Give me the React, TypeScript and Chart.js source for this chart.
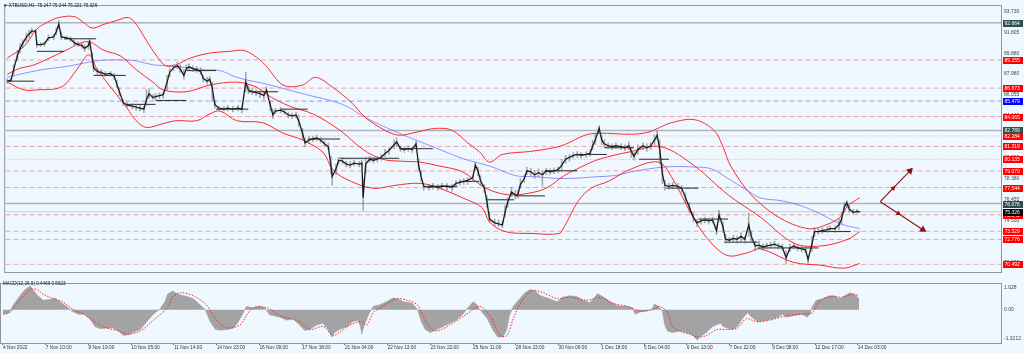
import React, { useEffect, useRef } from 'react';
import { Chart, registerables } from 'chart.js';

Chart.register(...registerables);

const FONT = "'Liberation Sans', 'DejaVu Sans', Arial, sans-serif";
const BG = '#f0f8ff';

// ---------------- axis data ----------------
const xTickBars = [0, 33, 66, 99, 132, 165, 198, 231, 264, 297, 330, 363, 396, 429, 462, 495, 528, 561, 594, 627, 660];
const xTickLabels = ['4 Nov 2022', '7 Nov 10:00', '8 Nov 19:00', '10 Nov 05:00', '11 Nov 14:00', '14 Nov 23:00', '16 Nov 09:00', '17 Nov 18:00', '21 Nov 04:00', '22 Nov 13:00', '23 Nov 22:00', '25 Nov 11:00', '28 Nov 23:00', '30 Nov 09:00', '1 Dec 18:00', '5 Dec 04:00', '6 Dec 13:00', '7 Dec 22:00', '9 Dec 08:00', '12 Dec 17:00', '14 Dec 03:00'];
const priceTicks = [93.73, 91.805, 89.88, 87.98, 86.055, 84.13, 82.205, 80.28, 78.38, 76.455, 74.53, 72.605, 70.68];
const macdTicks = [1.028, 0, -1.3212];
const macdTickLabels = ['1.028', '0.00', '-1.3212'];
const X_MIN = -1.54;
const X_MAX = 770.6;
const PRICE_MIN = 69.79;
const PRICE_MAX = 94.21;
const MACD_MIN = -1.532;
const MACD_MAX = 1.191;

const titleText = '\u25BC XTBUSD,H1  75.247 75.344 75.221 75.326';
const macdTitle = 'MACD(12,26,9) 0.4469 0.5623';

// ---------------- price data (bar index, H1) ----------------
const priceBars = [0,3,5,8,10,12,15,17,19,22,23,26,29,32,36,38,40,42,46,49,52,55,58,60,63,64,66,67,70,73,76,80,83,85,87,90,93,97,100,103,106,108,110,113,115,118,121,124,126,129,132,134,137,139,141,144,147,150,152,155,157,159,161,164,168,171,175,179,182,185,187,190,193,196,199,201,204,206,208,212,215,218,221,224,226,229,231,234,237,240,243,246,249,251,252,255,257,260,263,266,269,273,275,276,278,281,284,287,290,293,296,300,302,305,308,311,314,317,319,321,323,327,330,334,337,341,345,348,351,354,357,361,363,365,367,370,372,374,378,381,384,386,388,391,394,396,398,401,403,406,409,412,415,418,421,424,427,430,433,436,439,442,445,449,452,454,456,459,461,463,466,469,472,476,479,482,484,486,489,493,496,499,502,504,506,508,510,513,516,520,523,526,529,532,535,538,541,544,547,550,552,555,557,560,563,566,569,572,575,577,580,583,586,589,592,595,598,601,604,607,610,613,616,619,621,624,626,629,632,636,638,642,645,647,649,651,653,656,659,661];
const priceClose = [87.31,87.40,88.37,89.70,90.32,90.76,91.38,91.64,91.91,91.91,90.67,90.67,90.76,91.29,91.38,91.82,92.53,91.38,91.29,91.20,90.85,90.67,90.58,90.32,90.58,90.94,89.43,88.55,88.19,88.11,87.93,88.02,87.75,87.04,86.34,85.36,85.10,85.01,84.92,84.83,84.74,85.63,86.16,85.80,85.89,85.98,86.07,87.22,88.11,88.55,88.72,88.46,87.84,88.46,88.64,88.46,88.37,88.19,87.57,87.31,87.49,86.69,85.18,84.83,84.74,84.83,84.74,84.83,84.74,87.22,86.51,86.34,86.25,86.16,85.98,86.51,85.10,84.21,84.57,84.65,84.48,84.21,84.12,84.21,83.68,82.53,81.65,81.91,82.00,82.09,81.91,81.56,81.29,79.61,78.55,79.26,80.05,79.96,79.70,79.61,79.79,79.70,79.79,76.60,79.70,80.14,80.05,80.14,80.32,80.67,80.94,81.47,81.73,81.11,81.03,81.11,81.03,81.56,79.61,78.55,77.66,77.57,77.66,77.57,77.66,77.66,77.57,77.93,78.02,78.11,78.19,78.46,79.61,79.08,78.19,77.49,76.25,74.65,74.30,74.21,74.12,75.27,76.16,77.13,76.87,76.87,77.84,78.37,79.08,78.99,78.72,78.90,78.72,79.08,78.99,79.08,79.17,79.61,80.14,80.32,80.49,80.58,80.49,80.58,80.67,81.38,81.91,82.97,81.91,81.56,81.38,81.29,81.38,81.29,81.20,81.38,80.85,80.41,81.03,81.38,81.20,81.38,81.91,82.35,81.03,78.81,77.75,77.66,77.75,77.66,77.49,76.60,75.72,74.83,74.30,74.48,74.57,74.48,74.57,73.59,75.01,73.95,72.80,72.71,72.88,72.80,73.06,72.80,74.12,73.06,72.18,72.26,72.09,72.18,72.26,72.35,72.18,72.09,71.11,72.00,72.18,72.00,71.91,71.82,70.94,72.35,73.50,73.50,73.59,73.68,73.77,73.77,74.12,74.65,75.72,76.16,75.54,75.27,75.36,75.33];
const priceHigh = [87.49,87.57,88.81,90.14,90.76,91.11,91.73,92.00,92.18,92.09,90.94,90.85,90.94,91.56,91.64,92.18,92.88,91.82,91.47,91.38,91.11,90.94,90.85,90.67,90.94,91.11,89.88,88.99,88.46,88.37,88.19,88.19,88.02,87.40,86.69,85.63,85.36,85.27,85.18,85.10,85.01,86.51,86.60,86.07,86.16,86.25,86.34,87.84,88.46,88.81,89.08,88.81,88.37,88.81,88.90,88.72,88.64,88.55,87.84,87.66,87.75,87.22,85.54,85.01,85.01,85.10,85.01,85.10,85.01,88.11,86.87,86.69,86.51,86.51,86.34,86.78,85.45,84.74,84.83,84.92,84.74,84.48,84.39,84.48,84.21,82.97,82.09,82.26,82.26,82.35,82.18,81.82,81.65,80.41,79.08,79.70,80.32,80.32,79.96,79.96,80.05,79.96,80.05,78.37,80.32,80.41,80.32,80.41,80.58,81.03,81.20,81.91,82.09,81.38,81.29,81.38,81.29,81.82,80.14,79.08,77.93,77.84,77.93,77.84,77.93,77.93,77.84,78.19,78.28,78.37,78.46,78.72,79.88,79.43,78.64,77.84,76.78,75.27,74.65,74.57,74.48,75.89,76.60,77.57,77.31,77.31,78.37,78.72,79.43,79.34,79.08,79.26,79.08,79.34,79.26,79.34,79.43,80.14,80.49,80.58,80.76,80.85,80.76,80.85,81.03,81.91,82.44,83.24,82.26,81.91,81.65,81.56,81.65,81.56,81.47,81.73,81.20,80.76,81.47,81.65,81.56,81.65,82.35,82.80,81.91,79.70,78.19,77.93,78.02,77.93,77.75,77.04,76.16,75.27,74.65,74.74,74.83,74.74,74.83,74.12,75.45,74.39,73.24,72.97,73.15,73.06,73.42,73.06,75.18,73.50,72.62,72.62,72.35,72.44,72.53,72.62,72.44,72.35,71.73,72.35,72.44,72.26,72.18,72.09,71.29,73.06,73.86,73.77,73.86,73.95,74.03,74.03,74.65,75.27,76.16,76.34,75.89,75.54,75.54,75.34];
const priceLow = [87.13,87.22,87.93,89.17,89.88,90.41,90.94,91.29,91.64,91.73,90.41,90.50,90.50,91.03,91.11,91.56,92.18,91.11,91.11,90.94,90.58,90.50,90.32,90.05,90.23,90.67,88.99,88.19,87.93,87.84,87.75,87.75,87.49,86.69,85.98,85.10,84.92,84.74,84.65,84.57,84.39,85.10,85.72,85.63,85.63,85.72,85.72,86.51,87.75,88.28,88.46,88.11,87.49,88.28,88.37,88.19,88.11,87.93,87.22,87.04,87.22,85.45,84.83,84.65,84.57,84.57,84.48,84.57,84.39,86.34,86.16,86.07,85.98,85.80,85.63,86.16,84.57,83.86,84.30,84.39,84.30,83.95,83.86,83.95,83.15,81.91,81.29,81.56,81.73,81.82,81.65,81.29,81.03,78.81,77.75,78.72,79.70,79.70,79.43,79.34,79.52,79.43,79.52,75.45,78.81,79.88,79.79,79.88,80.05,80.41,80.58,81.11,81.29,80.85,80.76,80.85,80.76,81.20,79.08,78.11,77.31,77.31,77.40,77.31,77.40,77.31,77.22,77.66,77.75,77.84,77.84,78.11,79.08,78.64,77.75,77.13,75.72,74.30,74.03,73.95,73.86,74.83,75.72,76.69,76.51,76.60,77.49,78.02,78.72,78.64,78.37,78.55,77.66,78.72,78.72,78.81,78.90,79.17,79.79,79.96,80.23,80.32,80.23,80.32,80.41,81.03,81.47,82.53,81.47,81.29,81.11,81.03,81.11,81.03,80.94,81.03,80.32,80.05,80.58,81.03,80.85,81.03,81.47,81.91,79.70,77.93,77.31,77.40,77.49,77.40,77.13,76.07,75.27,74.39,73.95,74.21,74.30,74.21,74.30,73.24,74.48,73.42,72.44,72.44,72.53,72.44,72.62,72.44,73.06,72.53,71.73,71.91,71.82,71.91,72.00,72.09,71.91,71.82,70.58,71.65,71.91,71.73,71.65,71.56,70.58,71.65,73.06,73.24,73.33,73.42,73.50,73.42,73.68,74.21,75.27,75.72,75.27,75.10,75.18,75.22];

// ---------------- Bollinger bands & moving average ----------------
const upperBars = [0,13,23,31,40,52,59,66,75,85,94,100,108,116,123,131,142,157,173,183,191,200,214,229,239,252,266,278,293,304,317,332,345,357,366,374,384,405,420,432,448,459,484,497,506,515,533,548,555,561,577,598,621,635,646,652,661];
const upperBand = [89.43,90.50,92.09,92.71,93.15,93.24,92.71,92.18,92.53,92.88,93.15,92.53,91.03,89.61,88.72,88.81,89.43,89.88,90.05,90.14,89.70,88.81,86.95,86.95,87.66,86.78,85.45,83.95,82.80,82.35,82.62,82.97,82.80,81.65,80.85,79.88,80.58,80.85,81.11,81.47,82.35,82.53,82.44,82.62,83.06,83.50,83.77,82.80,81.29,79.52,76.87,74.83,73.77,74.12,74.83,75.89,76.60];
const middleBars = [0,9,21,44,62,75,88,100,113,121,139,157,178,193,204,219,237,258,276,291,306,320,335,353,371,389,405,418,432,445,459,484,507,533,559,584,610,631,652,661];
const middleBand = [87.93,88.46,88.81,90.05,90.94,90.14,89.61,88.37,87.22,86.51,86.34,86.95,87.22,86.78,85.89,85.01,84.30,82.80,81.03,80.14,79.96,79.88,79.52,78.99,77.49,76.87,77.04,77.49,78.64,79.43,80.14,80.85,81.29,79.52,76.87,74.83,72.44,72.18,72.80,73.50];
const lowerBars = [0,13,23,42,54,62,65,69,83,93,100,108,121,131,147,157,165,178,198,214,229,245,252,262,283,301,320,335,353,368,374,386,407,428,432,443,453,466,484,505,515,533,546,559,574,584,610,631,649,661];
const lowerBand = [87.22,86.51,86.51,86.78,88.37,89.70,89.61,88.55,86.34,84.83,83.68,83.06,83.42,83.68,83.68,84.30,84.57,83.68,83.50,82.53,81.91,80.76,79.26,78.37,77.49,77.75,77.93,77.49,76.60,75.72,74.39,73.50,73.33,73.33,73.95,76.34,77.49,78.11,79.26,79.88,78.55,74.57,72.44,71.29,71.56,71.91,70.67,70.41,70.14,70.58];
const maBars = [0,23,49,69,85,100,113,127,152,165,178,204,229,260,278,304,330,355,374,394,407,432,459,471,484,510,533,546,559,571,584,600,615,631,646,661];
const maValues = [87.66,88.28,88.72,89.17,89.26,89.17,88.81,88.72,88.37,88.28,87.66,86.95,86.16,85.18,83.95,82.53,81.29,80.14,79.52,78.64,78.55,78.37,78.55,78.64,78.99,79.43,79.43,79.26,78.37,77.49,76.60,76.34,75.89,75.10,74.21,73.77];

// ---------------- short black level segments ----------------
const segStart = [0,23,44,67,92,115,139,162,187,212,233,258,304,327,351,371,394,417,442,463,490,511,536,556,582,629];
const segEnd = [21,44,69,92,115,139,162,187,210,233,258,304,330,349,366,393,417,442,465,486,513,536,559,582,629,654];
const segPrice = [87.31,90.05,91.20,87.84,85.18,85.54,88.28,84.74,86.34,84.74,82.00,80.23,81.11,77.66,78.11,76.42,76.78,79.08,80.58,81.20,80.14,77.49,74.65,72.53,72.00,73.50];

// ---------------- horizontal levels ----------------
const redDashedLevels = [89.255, 86.673, 84.065, 81.319, 79.07, 77.544, 75.04, 73.529, 72.776, 70.492];
const redDottedLevels = [82.284, 80.135];
const blueDashedLevels = [85.479];
const greySolidLevels = [92.664, 82.789, 76.076];
const currentPrice = 75.326;

// ---------------- projection arrows ----------------
const arrowUpBars = [677, 687, 700];
const arrowUpPrices = [76.25, 77.49, 79.08];
const arrowDownBars = [677, 691, 710];
const arrowDownPrices = [76.25, 75.16, 73.68];

// ---------------- MACD ----------------
const macdBars = [0,5,8,13,17,21,23,27,31,36,40,44,49,53,58,63,67,71,75,80,85,89,93,97,100,106,111,116,121,125,127,131,135,142,147,152,156,160,164,168,173,178,181,185,188,193,198,202,206,214,219,224,229,233,237,242,247,251,254,256,260,266,270,274,276,277,279,283,286,291,296,301,305,309,316,320,323,326,330,335,340,345,350,355,359,363,366,368,374,378,382,386,389,391,394,399,403,407,411,415,422,428,432,438,443,448,453,457,459,463,469,475,482,486,488,492,497,501,503,506,509,511,513,517,523,528,533,536,538,543,548,554,556,559,563,567,571,575,578,583,590,598,602,605,610,617,621,623,625,628,633,638,642,646,650,654,658,661];
const macdHist = [-0.20,-0.13,0.23,0.65,0.94,1.09,0.94,0.65,0.44,0.47,0.55,0.37,0.16,-0.06,-0.20,-0.20,-0.41,-0.77,-0.87,-0.84,-0.84,-0.98,-1.19,-1.15,-1.05,-0.91,-0.55,-0.20,0.02,0.37,0.72,0.87,0.72,0.61,0.51,0.23,0.02,-0.55,-0.91,-0.94,-0.91,-0.84,-0.62,-0.20,0.16,0.09,0.18,0.09,-0.24,-0.34,-0.48,-0.41,-0.70,-0.95,-0.91,-0.70,-0.62,-0.91,-1.26,-1.05,-0.90,-0.77,-0.55,-0.48,-0.77,-1.12,-0.70,-0.13,0.16,0.23,0.37,0.55,0.51,0.37,0.30,0.02,-0.55,-0.91,-1.05,-0.91,-0.77,-0.62,-0.48,-0.20,0.09,0.37,0.23,0.02,-0.41,-0.91,-1.26,-1.26,-0.91,-0.27,0.16,0.51,0.79,0.94,0.87,0.65,0.51,0.37,0.58,0.65,0.61,0.44,0.33,0.58,0.75,0.61,0.37,0.18,0.16,0.09,-0.20,-0.10,-0.06,0.02,0.27,0.16,-0.06,-0.70,-0.98,-1.05,-0.98,-1.05,-1.19,-1.40,-1.26,-1.05,-0.77,-0.62,-0.77,-0.84,-0.91,-0.77,-0.41,-0.13,-0.34,-0.55,-0.48,-0.34,-0.20,-0.34,-0.27,-0.20,-0.34,-0.20,0.16,0.44,0.51,0.65,0.65,0.51,0.65,0.79,0.70,0.51];
const signalBars = [0,5,13,21,26,31,39,46,54,62,73,80,90,96,106,116,127,131,137,147,157,165,173,183,188,193,204,214,229,237,247,255,260,268,276,281,286,293,304,312,320,324,330,335,345,358,368,376,384,389,394,401,409,417,428,438,451,461,471,482,492,502,507,513,517,523,530,536,543,551,559,567,574,582,592,605,618,625,628,633,641,648,656,661];
const signalValues = [-0.20,-0.13,0.44,0.94,0.94,0.72,0.51,0.37,0.02,-0.20,-0.62,-0.84,-0.98,-1.12,-0.98,-0.48,0.09,0.58,0.79,0.65,0.23,-0.48,-0.84,-0.70,-0.27,0.09,0.09,-0.27,-0.55,-0.91,-0.77,-1.19,-1.02,-0.70,-0.55,-0.70,-0.13,0.16,0.51,0.44,0.23,-0.27,-0.84,-0.98,-0.70,-0.20,0.16,-0.27,-1.19,-1.19,-0.41,0.44,0.89,0.79,0.51,0.58,0.44,0.58,0.30,0.16,-0.06,0.02,0.16,-0.13,-0.77,-1.00,-1.12,-1.26,-1.19,-0.91,-0.91,-0.84,-0.41,-0.55,-0.48,-0.27,-0.20,-0.13,0.16,0.51,0.61,0.58,0.72,0.65];

// ---------------- helpers ----------------
const pts = (xs: number[], ys: number[]) => xs.map((x, i) => ({ x, y: ys[i] }));

const levelDataset = (v: number, color: string, dash: number[], width: number) => ({
  type: 'line',
  data: [{ x: X_MIN, y: v }, { x: X_MAX, y: v }],
  borderColor: color,
  borderDash: dash,
  borderWidth: width,
  pointRadius: 0,
  order: 9,
});

const bgPlugin = {
  id: 'bgFill',
  beforeDraw(chart: any) {
    const { ctx, width, height } = chart;
    ctx.save();
    ctx.fillStyle = BG;
    ctx.fillRect(0, 0, width, height);
    ctx.restore();
  },
};

const mainOverlay = {
  id: 'mainOverlay',
  afterDraw(chart: any) {
    const { ctx, chartArea } = chart;
    const y = chart.scales.y;
    ctx.save();
    ctx.strokeStyle = '#8e979f';
    ctx.lineWidth = 1;
    ctx.strokeRect(chartArea.left - 0.5, chartArea.top - 0.5, chartArea.width + 1, chartArea.height + 1);
    const box = (v: number, color: string) => {
      const py = y.getPixelForValue(v);
      ctx.fillStyle = color;
      ctx.fillRect(chartArea.right + 2, Math.round(py) - 3, 20, 7);
      ctx.fillStyle = '#ffffff';
      ctx.font = `5px ${FONT}`;
      ctx.textBaseline = 'middle';
      ctx.textAlign = 'left';
      ctx.fillText(v.toFixed(3), chartArea.right + 3.5, Math.round(py) + 0.5);
    };
    greySolidLevels.forEach((v) => box(v, '#2f4f4f'));
    redDashedLevels.forEach((v) => box(v, '#ff0000'));
    redDottedLevels.forEach((v) => box(v, '#ff0000'));
    blueDashedLevels.forEach((v) => box(v, '#0000ff'));
    box(currentPrice, '#000000');
    ctx.fillStyle = '#1a1a1a';
    ctx.font = `4.6px ${FONT}`;
    ctx.textBaseline = 'middle';
    ctx.textAlign = 'left';
    ctx.fillText(titleText, 3, 6);
    ctx.restore();
  },
};

const macdOverlay = {
  id: 'macdOverlay',
  afterDraw(chart: any) {
    const { ctx, chartArea } = chart;
    ctx.save();
    ctx.strokeStyle = '#8e979f';
    ctx.lineWidth = 1;
    ctx.strokeRect(chartArea.left - 0.5, chartArea.top - 0.5, chartArea.width + 1, chartArea.height + 1);
    ctx.fillStyle = '#1a1a1a';
    ctx.font = `4.6px ${FONT}`;
    ctx.textBaseline = 'middle';
    ctx.textAlign = 'left';
    ctx.fillText(macdTitle, 3, 6);
    ctx.restore();
  },
};

function buildMainConfig(): any {
  const segData: any[] = [];
  segStart.forEach((s, i) => {
    segData.push({ x: s, y: segPrice[i] }, { x: segEnd[i], y: segPrice[i] }, { x: segEnd[i], y: null });
  });
  const bandStyle = { type: 'line', borderColor: '#ff2a2a', borderWidth: 1, pointRadius: 0, tension: 0.35, order: 6 };
  const datasets: any[] = [
    {
      type: 'line',
      data: pts(priceBars, priceClose),
      borderColor: '#1c1c1c',
      borderWidth: 1.3,
      pointRadius: 0,
      tension: 0,
      order: 1,
    },
    {
      type: 'bar',
      data: priceBars.map((b, i) => ({ x: b, y: [priceLow[i], priceHigh[i]] })),
      backgroundColor: 'rgba(110,110,110,0.55)',
      borderWidth: 0,
      barThickness: 1,
      order: 2,
    },
    {
      type: 'line',
      data: segData,
      borderColor: '#2a2a2a',
      borderWidth: 1,
      pointRadius: 0,
      spanGaps: false,
      order: 3,
    },
    {
      type: 'line',
      data: pts(arrowUpBars, arrowUpPrices),
      borderColor: '#8b1a1a',
      borderWidth: 1.2,
      pointStyle: 'triangle',
      pointRadius: [0, 1.8, 3],
      pointRotation: [0, 43, 43],
      pointBackgroundColor: '#8b1010',
      pointBorderColor: '#8b1010',
      order: 0,
    },
    {
      type: 'line',
      data: pts(arrowDownBars, arrowDownPrices),
      borderColor: '#8b1a1a',
      borderWidth: 1.2,
      pointStyle: 'triangle',
      pointRadius: [0, 1.8, 3],
      pointRotation: [0, 122, 122],
      pointBackgroundColor: '#8b1010',
      pointBorderColor: '#8b1010',
      order: 0,
    },
    { ...bandStyle, data: pts(upperBars, upperBand) },
    { ...bandStyle, data: pts(middleBars, middleBand) },
    { ...bandStyle, data: pts(lowerBars, lowerBand) },
    {
      type: 'line',
      data: pts(maBars, maValues),
      borderColor: 'rgba(110,110,255,0.75)',
      borderWidth: 1,
      pointRadius: 0,
      tension: 0.35,
      order: 7,
    },
    ...greySolidLevels.map((v) => levelDataset(v, '#aab4be', [], 1.5)),
    ...redDashedLevels.map((v) => levelDataset(v, 'rgba(245,120,120,0.65)', [5, 3], 1)),
    ...redDottedLevels.map((v) => levelDataset(v, 'rgba(245,120,120,0.7)', [1, 2], 1)),
    ...blueDashedLevels.map((v) => levelDataset(v, 'rgba(100,100,245,0.65)', [5, 3], 1)),
    levelDataset(currentPrice, '#c6ced6', [], 1),
  ];
  return {
    type: 'line',
    data: { datasets },
    plugins: [bgPlugin, mainOverlay],
    options: {
      responsive: false,
      maintainAspectRatio: false,
      animation: false,
      events: [],
      layout: { padding: { left: 1, top: 1, bottom: 1, right: 0 } },
      plugins: { legend: { display: false }, tooltip: { enabled: false } },
      scales: {
        x: { type: 'linear', min: X_MIN, max: X_MAX, display: false, offset: false },
        y: {
          type: 'linear',
          position: 'right',
          min: PRICE_MIN,
          max: PRICE_MAX,
          afterFit: (s: any) => { s.width = 23; },
          afterBuildTicks: (s: any) => { s.ticks = priceTicks.map((v) => ({ value: v })); },
          ticks: {
            font: { size: 5, family: FONT },
            color: '#444',
            padding: 3,
            callback: (v: any) => Number(v).toFixed(3),
          },
          grid: { display: false, drawTicks: false },
          border: { display: false },
        },
      },
    },
  };
}

function buildMacdConfig(): any {
  return {
    type: 'line',
    data: {
      datasets: [
        {
          type: 'line',
          data: pts(signalBars, signalValues),
          borderColor: '#ff2020',
          borderWidth: 1,
          borderDash: [1.5, 1.5],
          pointRadius: 0,
          tension: 0.3,
          order: 0,
        },
        {
          type: 'line',
          data: pts(macdBars, macdHist),
          borderColor: '#9a9a9a',
          borderWidth: 0.5,
          backgroundColor: '#a3a3a3',
          fill: 'origin',
          pointRadius: 0,
          tension: 0,
          order: 1,
        },
      ],
    },
    plugins: [bgPlugin, macdOverlay],
    options: {
      responsive: false,
      maintainAspectRatio: false,
      animation: false,
      events: [],
      layout: { padding: { left: 1, top: 1, bottom: 0, right: 0 } },
      plugins: { legend: { display: false }, tooltip: { enabled: false } },
      scales: {
        x: {
          type: 'linear',
          min: X_MIN,
          max: X_MAX,
          offset: false,
          afterFit: (s: any) => { s.height = 10; },
          afterBuildTicks: (s: any) => { s.ticks = xTickBars.map((v) => ({ value: v })); },
          ticks: {
            align: 'start',
            autoSkip: false,
            maxRotation: 0,
            minRotation: 0,
            padding: 0,
            font: { size: 4.8, family: FONT },
            color: '#333',
            callback: (_v: any, i: number) => xTickLabels[i],
          },
          grid: { display: true, drawOnChartArea: false, drawTicks: true, tickLength: 2, color: '#666' },
          border: { display: false },
        },
        y: {
          type: 'linear',
          position: 'right',
          min: MACD_MIN,
          max: MACD_MAX,
          afterFit: (s: any) => { s.width = 23; },
          afterBuildTicks: (s: any) => { s.ticks = macdTicks.map((v) => ({ value: v })); },
          ticks: {
            font: { size: 5, family: FONT },
            color: '#444',
            padding: 3,
            callback: (_v: any, i: number) => macdTickLabels[i],
          },
          grid: { display: false, drawTicks: false },
          border: { display: false },
        },
      },
    },
  };
}

function ChartCanvas({ build, width, height }: { build: () => any; width: number; height: number }) {
  const ref = useRef<HTMLCanvasElement | null>(null);
  useEffect(() => {
    if (!ref.current) return;
    const chart = new Chart(ref.current, build());
    return () => chart.destroy();
  }, [build]);
  return <canvas ref={ref} width={width} height={height} style={{ display: 'block', width, height }} />;
}

export default function App() {
  return (
    <div style={{ position: 'absolute', left: 0, top: 0, width: 1024, height: 353, background: BG, overflow: 'hidden' }}>
      <ChartCanvas build={buildMainConfig} width={1024} height={278} />
      <ChartCanvas build={buildMacdConfig} width={1024} height={75} />
    </div>
  );
}
